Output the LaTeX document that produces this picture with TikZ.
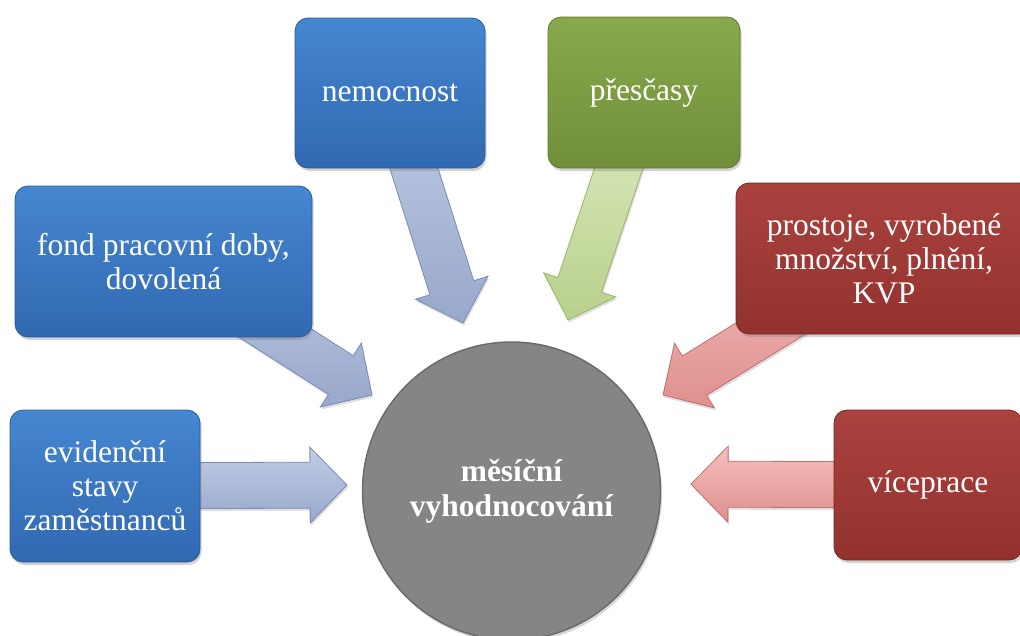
\documentclass[tikz,border=0pt]{standalone}
\usepackage{fontspec}
\setmainfont{Liberation Serif}
\usetikzlibrary{calc,shadows}
\pgfdeclarelayer{back}
\pgfsetlayers{back,main}

% box colours
\definecolor{blueTop}{HTML}{4686D1}
\definecolor{blueBot}{HTML}{3169B1}
\definecolor{blueLine}{HTML}{2A5A9B}
\definecolor{greenTop}{HTML}{88A94B}
\definecolor{greenBot}{HTML}{718F39}
\definecolor{greenLine}{HTML}{5D782C}
\definecolor{redTop}{HTML}{AA423E}
\definecolor{redBot}{HTML}{92322F}
\definecolor{redLine}{HTML}{762624}
\definecolor{hubFill}{HTML}{858585}
\definecolor{hubLine}{HTML}{6C6C6C}
% arrow colours
\definecolor{bArrL}{HTML}{C2CDE6}
\definecolor{bArrD}{HTML}{98A8CB}
\definecolor{bArrE}{HTML}{7B8BB2}
\definecolor{gArrL}{HTML}{E0EDC5}
\definecolor{gArrD}{HTML}{B8D08C}
\definecolor{gArrE}{HTML}{9AB36C}
\definecolor{rArrL}{HTML}{F4BFBD}
\definecolor{rArrD}{HTML}{DE908E}
\definecolor{rArrE}{HTML}{C0706E}

\tikzset{
  card/.style={rectangle, rounded corners=13pt, line width=0.8pt,
    text=white, align=center, inner sep=0pt,
    font=\fontsize{31.5}{34}\selectfont,
    drop shadow={shadow xshift=1.5pt, shadow yshift=-3pt, opacity=0.35}},
  bluecard/.style={card, top color=blueTop, bottom color=blueBot, draw=blueLine},
  greencard/.style={card, top color=greenTop, bottom color=greenBot, draw=greenLine},
  redcard/.style={card, top color=redTop, bottom color=redBot, draw=redLine},
  hub/.style={circle, minimum size=298pt, inner sep=0pt, fill=hubFill,
    draw=hubLine, line width=1.5pt, text=white, align=center,
    font=\bfseries\fontsize{31.5}{35}\selectfont,
    drop shadow={shadow xshift=1.5pt, shadow yshift=-3pt, opacity=0.3}},
  arrowbase/.style={line width=0.8pt, line join=miter,
    drop shadow={shadow xshift=1pt, shadow yshift=-2.5pt, opacity=0.25}},
  bluearrow/.style={arrowbase, top color=bArrL, bottom color=bArrD, draw=bArrE},
  greenarrow/.style={arrowbase, top color=gArrL, bottom color=gArrD, draw=gArrE},
  redarrow/.style={arrowbase, top color=rArrL, bottom color=rArrD, draw=rArrE},
}

% block arrow from #1 to the tip #2, drawn with style #3
\newcommand\fatarrow[3]{%
  \coordinate (fa-b) at ($(#2)!37pt!(#1)$);
  \path[#3] ($(#1)!23pt!90:(#2)$) -- ($(fa-b)!23pt!90:(#2)$)
    -- ($(fa-b)!38pt!90:(#2)$) -- (#2) -- ($(fa-b)!38pt!-90:(#2)$)
    -- ($(fa-b)!23pt!-90:(#2)$) -- ($(#1)!23pt!-90:(#2)$) -- cycle;
}

\begin{document}
\begin{tikzpicture}[x=1pt, y=-1pt]
  \useasboundingbox (0,0) rectangle (1020,635);

  % sources
  \node[bluecard, minimum width=190pt, minimum height=152pt] (ev) at (105,486)
    {evidenční\\stavy\\zaměstnanců};
  \node[bluecard, minimum width=297pt, minimum height=151pt] (fond) at (163.5,261.5)
    {fond pracovní doby,\\dovolená};
  \node[bluecard, minimum width=190pt, minimum height=150pt] (nem) at (390,93)
    {nemocnost};
  \node[greencard, minimum width=192pt, minimum height=151pt] (pres) at (644,92.5)
    {přesčasy};
  \node[redcard, minimum width=296pt, minimum height=151pt] (pros) at (884,258.5)
    {prostoje, vyrobené\\množství, plnění,\\KVP};
  \node[redcard, minimum width=188pt, minimum height=150pt] (vic) at (928,485)
    {víceprace};

  % evaluation hub
  \node[hub] (eval) at (511.5,491) {měsíční\\vyhodnocování};

  % arrow tips around the hub
  \coordinate (tip-ev)   at (347,485);
  \coordinate (tip-fond) at (372,395);
  \coordinate (tip-nem)  at (463,323);
  \coordinate (tip-pres) at (568,320);
  \coordinate (tip-pros) at (663,395);
  \coordinate (tip-vic)  at (691,484);

  \begin{pgfonlayer}{back}
    \fatarrow{ev.center}{tip-ev}{bluearrow}
    \fatarrow{fond.center}{tip-fond}{bluearrow}
    \fatarrow{nem.center}{tip-nem}{bluearrow}
    \fatarrow{pres.center}{tip-pres}{greenarrow}
    \fatarrow{pros.center}{tip-pros}{redarrow}
    \fatarrow{vic.center}{tip-vic}{redarrow}
  \end{pgfonlayer}
\end{tikzpicture}
\end{document}
